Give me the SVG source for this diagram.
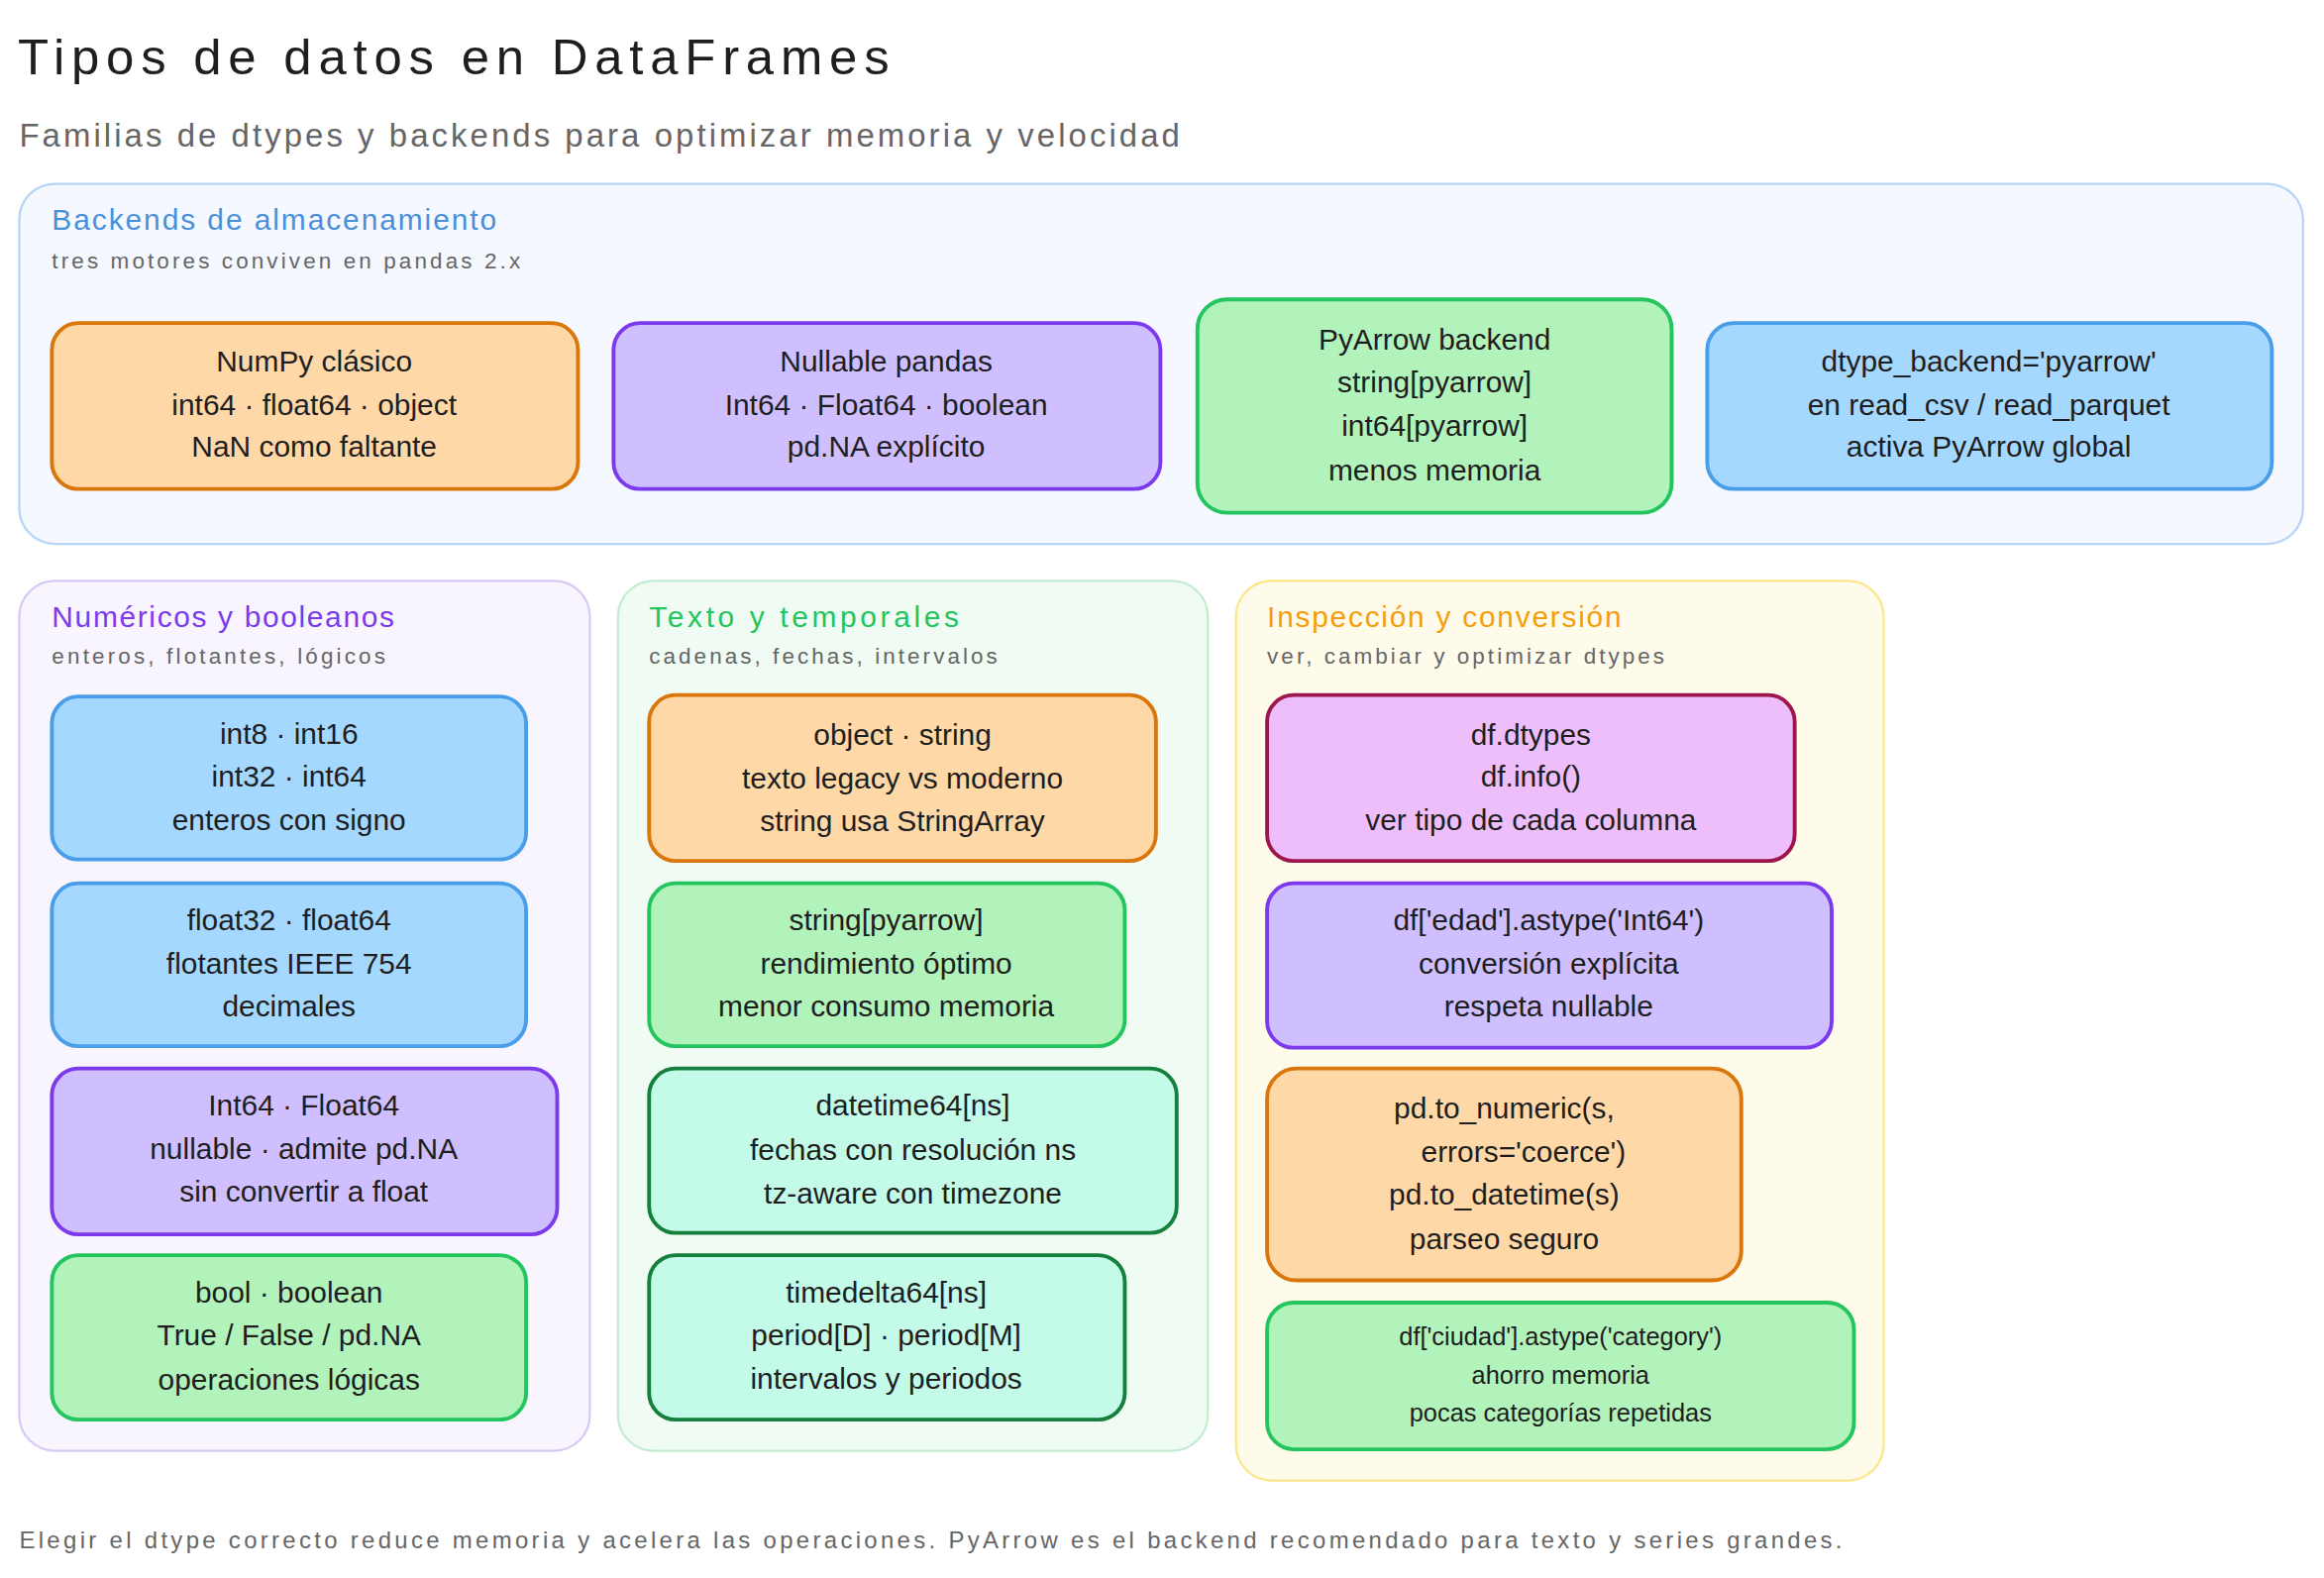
<svg xmlns="http://www.w3.org/2000/svg" width="2346" height="1593" viewBox="0 0 2346 1593">
<style>
text{font-family:"Liberation Sans",Arial,sans-serif;fill:#1e1e1e}
.t{font-size:34px}
.st{font-size:22px;fill:#666}
.ct{font-size:20px}
.cs{font-size:15px;fill:#666}
.b{font-size:20px;text-anchor:middle}
.bs{font-size:17px;text-anchor:middle}
.n rect{stroke-width:2.6}
.or{fill:#ffd8a8;stroke:#d9760c}
.pu{fill:#d0bfff;stroke:#7c3aed}
.gr{fill:#b2f2bb;stroke:#22c55e}
.bl{fill:#a5d8ff;stroke:#4a9de8}
.te{fill:#c3fae8;stroke:#15803d}
.pk{fill:#eebefa;stroke:#9d174d}
</style>
<rect width="2346" height="1593" fill="#fff"/>
<g transform="scale(1.496)">
<text class="t" x="12" y="50" textLength="588" lengthAdjust="spacing">Tipos de datos en DataFrames</text>
<text class="st" x="13" y="99" textLength="783" lengthAdjust="spacing">Familias de dtypes y backends para optimizar memoria y velocidad</text>

<g id="backends">
<rect x="13" y="124" width="1541" height="243" rx="24" fill="#f5f8ff" stroke="#b8d4f5" stroke-width="1.5"/>
<text class="ct" x="35" y="155" style="fill:#4a90d9" textLength="300" lengthAdjust="spacing">Backends de almacenamiento</text>
<text class="cs" x="35" y="181" textLength="316" lengthAdjust="spacing">tres motores conviven en pandas 2.x</text>
</g>
<g id="numpy" class="n"><rect class="or" x="35" y="218" width="355" height="112" rx="18"/>
<text class="b" x="212" y="251">NumPy clásico</text><text class="b" x="212" y="280">int64 · float64 · object</text><text class="b" x="212" y="308">NaN como faltante</text></g>
<g id="nullable" class="n"><rect class="pu" x="414" y="218" width="369" height="112" rx="18"/>
<text class="b" x="598" y="251">Nullable pandas</text><text class="b" x="598" y="280">Int64 · Float64 · boolean</text><text class="b" x="598" y="308">pd.NA explícito</text></g>
<g id="pyarrow" class="n"><rect class="gr" x="808" y="202" width="320" height="144" rx="20"/>
<text class="b" x="968" y="236">PyArrow backend</text><text class="b" x="968" y="265">string[pyarrow]</text><text class="b" x="968" y="294">int64[pyarrow]</text><text class="b" x="968" y="324">menos memoria</text></g>
<g id="dtypebackend" class="n"><rect class="bl" x="1152" y="218" width="381" height="112" rx="18"/>
<text class="b" x="1342" y="251">dtype_backend='pyarrow'</text><text class="b" x="1342" y="280">en read_csv / read_parquet</text><text class="b" x="1342" y="308">activa PyArrow global</text></g>

<g id="numericos">
<rect x="13" y="392" width="385" height="587" rx="24" fill="#f8f5ff" stroke="#d8c8f5" stroke-width="1.5"/>
<text class="ct" x="35" y="423" style="fill:#7c3aed" textLength="231" lengthAdjust="spacing">Numéricos y booleanos</text>
<text class="cs" x="35" y="448" textLength="225" lengthAdjust="spacing">enteros, flotantes, lógicos</text>
</g>
<g id="ints" class="n"><rect class="bl" x="35" y="470" width="320" height="110" rx="18"/>
<text class="b" x="195" y="502">int8 · int16</text><text class="b" x="195" y="531">int32 · int64</text><text class="b" x="195" y="560">enteros con signo</text></g>
<g id="floats" class="n"><rect class="bl" x="35" y="596" width="320" height="110" rx="18"/>
<text class="b" x="195" y="628">float32 · float64</text><text class="b" x="195" y="657">flotantes IEEE 754</text><text class="b" x="195" y="686">decimales</text></g>
<g id="nullint" class="n"><rect class="pu" x="35" y="721" width="341" height="112" rx="18"/>
<text class="b" x="205" y="753">Int64 · Float64</text><text class="b" x="205" y="782">nullable · admite pd.NA</text><text class="b" x="205" y="811">sin convertir a float</text></g>
<g id="bool" class="n"><rect class="gr" x="35" y="847" width="320" height="111" rx="18"/>
<text class="b" x="195" y="879">bool · boolean</text><text class="b" x="195" y="908">True / False / pd.NA</text><text class="b" x="195" y="938">operaciones lógicas</text></g>

<g id="texto">
<rect x="417" y="392" width="398" height="587" rx="24" fill="#f0fbf3" stroke="#c4ecd0" stroke-width="1.5"/>
<text class="ct" x="438" y="423" style="fill:#22c55e" textLength="209" lengthAdjust="spacing">Texto y temporales</text>
<text class="cs" x="438" y="448" textLength="235" lengthAdjust="spacing">cadenas, fechas, intervalos</text>
</g>
<g id="object" class="n"><rect class="or" x="438" y="469" width="342" height="112" rx="18"/>
<text class="b" x="609" y="503">object · string</text><text class="b" x="609" y="532">texto legacy vs moderno</text><text class="b" x="609" y="561">string usa StringArray</text></g>
<g id="strpa" class="n"><rect class="gr" x="438" y="596" width="321" height="110" rx="18"/>
<text class="b" x="598" y="628">string[pyarrow]</text><text class="b" x="598" y="657">rendimiento óptimo</text><text class="b" x="598" y="686">menor consumo memoria</text></g>
<g id="datetime" class="n"><rect class="te" x="438" y="721" width="356" height="111" rx="18"/>
<text class="b" x="616" y="753">datetime64[ns]</text><text class="b" x="616" y="783">fechas con resolución ns</text><text class="b" x="616" y="812">tz-aware con timezone</text></g>
<g id="timedelta" class="n"><rect class="te" x="438" y="847" width="321" height="111" rx="18"/>
<text class="b" x="598" y="879">timedelta64[ns]</text><text class="b" x="598" y="908">period[D] · period[M]</text><text class="b" x="598" y="937">intervalos y periodos</text></g>

<g id="inspeccion">
<rect x="834" y="392" width="437" height="607" rx="24" fill="#fffbeb" stroke="#fde68a" stroke-width="1.5"/>
<text class="ct" x="855" y="423" style="fill:#f59e0b" textLength="239" lengthAdjust="spacing">Inspección y conversión</text>
<text class="cs" x="855" y="448" textLength="268" lengthAdjust="spacing">ver, cambiar y optimizar dtypes</text>
</g>
<g id="dtypes" class="n"><rect class="pk" x="855" y="469" width="356" height="112" rx="18"/>
<text class="b" x="1033" y="503">df.dtypes</text><text class="b" x="1033" y="531">df.info()</text><text class="b" x="1033" y="560">ver tipo de cada columna</text></g>
<g id="astype" class="n"><rect class="pu" x="855" y="596" width="381" height="111" rx="18"/>
<text class="b" x="1045" y="628">df['edad'].astype('Int64')</text><text class="b" x="1045" y="657">conversión explícita</text><text class="b" x="1045" y="686">respeta nullable</text></g>
<g id="tonumeric" class="n"><rect class="or" x="855" y="721" width="320" height="143" rx="20"/>
<text class="b" x="1015" y="755">pd.to_numeric(s,</text><text class="b" x="1028" y="784">errors='coerce')</text><text class="b" x="1015" y="813">pd.to_datetime(s)</text><text class="b" x="1015" y="843">parseo seguro</text></g>
<g id="category" class="n"><rect class="gr" x="855" y="879" width="396" height="99" rx="18"/>
<text class="bs" x="1053" y="908">df['ciudad'].astype('category')</text><text class="bs" x="1053" y="934">ahorro memoria</text><text class="bs" x="1053" y="959">pocas categorías repetidas</text></g>

<text x="13" y="1045" style="font-size:16px;fill:#666" textLength="1230" lengthAdjust="spacing">Elegir el dtype correcto reduce memoria y acelera las operaciones. PyArrow es el backend recomendado para texto y series grandes.</text>
</g>
</svg>
